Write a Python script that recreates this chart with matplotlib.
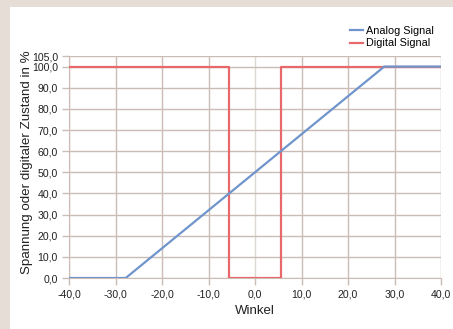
import numpy as np
import matplotlib.pyplot as plt
from matplotlib.patches import Rectangle
from matplotlib.ticker import FuncFormatter

# winkel / signal values
analog_x = [-40.0, -27.8, 27.8, 40.0]
analog_y = [0.0, 0.0, 100.0, 100.0]
digital_x = [-40.0, -5.5, -5.5, 5.5, 5.5, 40.0]
digital_y = [100.0, 100.0, 0.0, 0.0, 100.0, 100.0]

x_ticks = np.arange(-40, 41, 10)
y_ticks = [0, 10, 20, 30, 40, 50, 60, 70, 80, 90, 100, 105]

grid_col = "#cbbdb5"
plt.rcParams['font.family'] = ['Liberation Sans', 'DejaVu Sans']
plt.rcParams['axes.unicode_minus'] = False

fig = plt.figure(figsize=(4.53, 3.29), dpi=100)
fig.patch.set_facecolor("white")

# beige window frame on top and left
fig.patches.append(Rectangle((0, 1 - 7 / 329), 1, 7 / 329, transform=fig.transFigure,
                             facecolor="#e6ddd7", edgecolor="none", zorder=0))
fig.patches.append(Rectangle((0, 0), 10 / 453, 1, transform=fig.transFigure,
                             facecolor="#e6ddd7", edgecolor="none", zorder=0))

ax = fig.add_axes([69 / 453, 51 / 329, 372 / 453, 222 / 329])
ax.plot(digital_x, digital_y, color="#e8696b", lw=1.6, label="Digital Signal", zorder=3)
ax.plot(analog_x, analog_y, color="#6f95cc", lw=1.6, label="Analog Signal", zorder=4)

ax.set_xlim(-40, 40)
ax.set_ylim(0, 105)
ax.set_xticks(x_ticks)
ax.set_yticks(y_ticks)
fmt = FuncFormatter(lambda v, p: ("%.1f" % v).replace(".", ","))
ax.xaxis.set_major_formatter(fmt)
ax.yaxis.set_major_formatter(fmt)
ax.grid(True, color=grid_col, lw=1)
ax.get_xgridlines()[4].set_color("#dcd8d4")
ax.set_axisbelow(True)
for s in ["top", "right"]:
    ax.spines[s].set_visible(False)
for s in ["left", "bottom"]:
    ax.spines[s].set_color(grid_col)
ax.tick_params(colors=grid_col, labelcolor="#222222", labelsize=7.6, length=5, width=1, pad=3)

ax.set_xlabel("Winkel", fontsize=9.5, color="#222222", labelpad=4)
ax.set_ylabel("Spannung oder digitaler Zustand in %", fontsize=9.6, color="#222222")
ax.yaxis.set_label_coords(-0.097, 0.52)

h, l = ax.get_legend_handles_labels()
fig.legend(h[::-1], l[::-1], loc="upper right", bbox_to_anchor=(436 / 453, 1 - 24 / 329),
           frameon=False, fontsize=7.8, handlelength=1.2, handletextpad=0.3,
           labelspacing=0.2, borderpad=0.2, borderaxespad=0)

fig.savefig("out.png", dpi=100)
